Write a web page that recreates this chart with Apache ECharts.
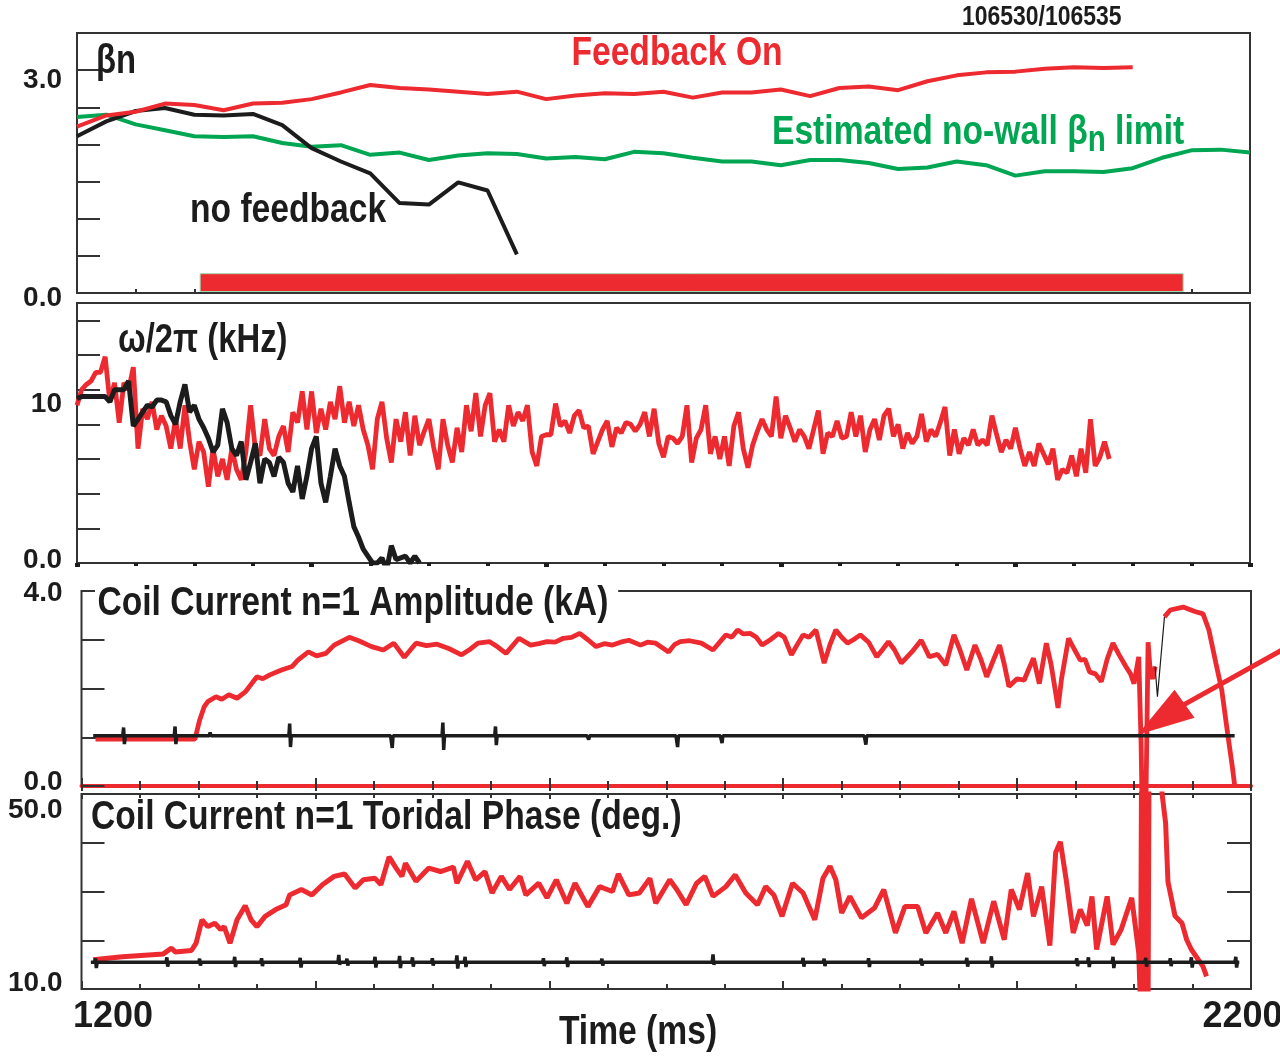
<!DOCTYPE html>
<html>
<head>
<meta charset="utf-8">
<title>Feedback stabilization, shots 106530/106535</title>
<script src="https://cdn.jsdelivr.net/npm/echarts@6.0.0/dist/echarts.min.js"></script>
<style>
  html, body { margin: 0; padding: 0; background: #fff; }
  #chart { width: 1280px; height: 1058px; }
</style>
</head>
<body>
<div id="chart"></div>
<script>
// ---------------------------------------------------------------------------
// Data
// ---------------------------------------------------------------------------

// Panel 1: normalized beta (one point every 25 ms)
const betaFbTimes = [1200,1225,1250,1275,1300,1325,1350,1375,1400,1425,1450,1475,1500,1525,1550,1575,1600,1625,1650,1675,1700,1725,1750,1775,1800,1825,1850,1875,1900,1925,1950,1975,2000,2025,2050,2075,2100];
const betaFbValues = [2.24,2.39,2.44,2.55,2.53,2.46,2.55,2.56,2.61,2.70,2.80,2.76,2.74,2.71,2.68,2.71,2.61,2.66,2.69,2.68,2.71,2.63,2.70,2.70,2.74,2.65,2.76,2.78,2.73,2.85,2.93,2.97,2.98,3.02,3.04,3.03,3.04];

const betaLimitTimes = [1200,1225,1250,1275,1300,1325,1350,1375,1400,1425,1450,1475,1500,1525,1550,1575,1600,1625,1650,1675,1700,1725,1750,1775,1800,1825,1850,1875,1900,1925,1950,1975,2000,2025,2050,2075,2100,2125,2150,2175,2200];
const betaLimitValues = [2.37,2.40,2.27,2.19,2.11,2.10,2.11,2.02,1.97,1.99,1.86,1.89,1.79,1.85,1.88,1.87,1.81,1.83,1.80,1.90,1.88,1.82,1.77,1.77,1.72,1.79,1.79,1.75,1.67,1.69,1.77,1.72,1.58,1.64,1.64,1.63,1.68,1.82,1.92,1.93,1.89];

const betaNoFbTimes = [1200,1225,1250,1275,1300,1325,1350,1375,1400,1425,1450,1475,1500,1525,1550,1575];
const betaNoFbValues = [2.11,2.31,2.45,2.49,2.40,2.39,2.41,2.26,1.95,1.77,1.61,1.21,1.19,1.49,1.38,0.52];

// Interval (ms) during which the feedback coils were active
const feedbackOnWindow = [1305, 2143];

// Panel 2: mode rotation frequency (kHz), sampled every 4 ms from 1200 ms
const rotStartMs = 1200;
const rotStepMs = 4;
const rotFbValues = [
  9.1,10.0,10.3,10.5,11.0,11.0,11.9,9.3,10.4,8.1,10.4,10.0,11.3,6.6,8.9,8.3,9.3,7.7,8.5,7.9,
  6.6,8.3,6.6,9.1,7.0,5.4,7.0,6.4,4.4,6.6,5.0,6.0,4.8,6.6,5.4,4.8,6.4,9.1,6.6,6.2,
  8.3,6.6,6.2,7.3,7.9,6.4,8.7,8.1,9.9,7.7,9.9,7.5,8.9,7.7,9.3,8.3,10.2,8.1,9.3,7.9,
  9.1,7.7,6.8,5.4,8.3,9.3,7.2,5.8,8.3,7.0,8.7,6.2,8.5,6.8,
  7.6,8.3,6.7,5.4,8.3,6.8,5.8,7.8,6.4,9.1,7.6,9.8,7.3,9.1,9.8,7.0,7.7,7.0,9.1,7.9,
  8.7,8.2,9.1,6.4,5.6,7.3,7.4,7.4,9.2,7.9,8.2,7.5,8.5,8.8,7.8,7.9,6.3,7.0,7.7,8.2,
  6.7,7.8,7.5,8.1,8.0,7.6,8.0,8.7,7.3,8.9,6.9,6.1,7.3,7.2,6.9,7.3,9.1,5.8,7.2,7.7,
  9.1,6.3,7.3,6.0,7.3,5.6,7.9,8.7,6.6,5.5,6.8,7.6,8.3,7.7,7.3,9.6,7.2,8.5,7.8,7.0,
  7.7,7.3,6.6,7.7,8.8,6.3,7.5,7.3,8.2,7.2,7.3,8.7,7.3,8.5,6.4,7.7,8.3,7.1,8.5,8.9,
  7.3,8.0,6.6,7.5,6.9,7.3,8.6,7.0,7.7,7.3,8.1,9.0,6.2,7.7,6.3,7.2,6.8,7.7,6.8,7.1,
  6.8,8.5,7.4,6.4,7.1,6.6,7.8,6.6,5.6,6.4,5.6,6.9,6.3,5.7,6.6,4.8,5.4,5.2,6.2,5.0,
  6.6,5.2,8.3,5.6,6.1,7.0,6.0
];
const rotNoFbValues = [
  9.5,9.6,9.6,9.6,9.6,9.6,9.6,9.3,10.0,10.0,10.0,10.5,7.9,8.3,8.7,9.1,9.0,9.4,9.4,9.3,
  8.5,8.0,9.3,10.3,8.7,9.1,8.3,7.8,7.2,6.4,6.8,8.9,8.1,6.6,6.2,7.0,4.8,5.8,6.9,4.6,
  6.0,5.8,5.0,6.1,5.8,4.6,4.1,5.6,3.7,5.0,6.6,7.3,4.6,3.5,5.0,6.6,5.6,5.0,3.5,2.1,
  1.5,0.8,0.4,0.0,0.0,0.3,-0.4,1.0,0.2,0.3,0.4,0.0,0.4,0.0
];

// Panel 3: n=1 coil current amplitude (kA)
const ampFbTimes = [1212,1297,1301,1305,1308,1315,1320,1326,1333,1340,1350,1355,1361,1371,1380,1385,1394,1401,1409,1416,1429,1437,1448,1458,1467,1476,1486,1495,1504,1514,1525,1532,1539,1549,1556,1563,1574,1584,1591,1598,1605,1612,1619,1626,1633,1640,1647,1654,1661,1668,1678,1684,1691,1702,1707,1712,1720,1730,1740,1751,1756,1761,1766,1772,1777,1782,1789,1796,1801,1807,1812,1817,1822,1828,1835,1840,1845,1850,1855,1860,1866,1873,1880,1885,1890,1895,1901,1910,1918,1925,1932,1939,1946,1951,1957,1964,1969,1974,1980,1985,1989,1993,2000,2006,2010,2014,2019,2025,2029,2033,2035,2038,2044,2049,2054,2058,2062,2067,2072,2077,2082,2087,2093,2097,2100,2104,2106,2107,2110,2112,2114,2116,2118,2122,2126,2131,2142,2152,2159,2164,2170,2175,2180,2184,2186];
const ampFbValues = [0.96,0.96,1.35,1.63,1.73,1.83,1.78,1.87,1.80,1.93,2.24,2.20,2.28,2.38,2.45,2.58,2.75,2.67,2.72,2.89,3.05,2.98,2.86,2.79,2.93,2.64,2.93,2.88,2.91,2.82,2.69,2.80,2.93,2.96,2.85,2.72,3.03,2.89,2.92,2.96,2.95,3.03,3.05,3.13,3.00,2.86,2.92,2.89,2.95,2.99,2.89,2.95,2.93,2.75,2.90,2.96,2.98,2.93,2.79,3.10,3.05,3.20,3.12,3.13,3.05,2.89,3.00,3.13,3.05,2.69,2.90,3.10,3.05,3.20,2.52,2.90,3.20,3.05,2.93,3.00,3.10,2.95,2.65,2.80,2.96,2.80,2.52,2.75,2.99,2.65,2.70,2.48,3.10,2.80,2.38,2.89,2.60,2.24,2.60,2.89,2.50,2.04,2.20,2.17,2.40,2.62,2.10,2.93,2.50,1.91,1.60,2.20,3.03,2.80,2.58,2.60,2.34,2.30,2.14,2.60,2.93,2.70,2.45,2.30,2.10,2.65,0.90,-0.60,-0.60,2.95,2.30,2.20,2.45,null,3.47,3.61,3.67,3.58,3.53,3.20,2.52,1.97,1.08,0.40,0.02];
// Short excursion recorded between the two feedback segments
const ampJumpTimes = [2118, 2120, 2126];
const ampJumpValues = [2.45, 1.83, 3.47];
// Reference shot: flat baseline with brief pickup spikes
const ampNoFbSpan = [1210, 2186];
const ampNoFbBase = 1.03;
const ampSpikeTimes = [1236,1280,1310,1378,1465,1509,1554,1633,1709,1747,1870];
const ampSpikeHigh  = [1.20,1.22,1.10,1.28,1.03,1.30,1.22,1.03,1.03,1.03,1.03];
const ampSpikeLow   = [0.86,0.86,1.03,0.80,0.78,0.74,0.84,0.95,0.80,0.88,0.85];

// Panel 4: n=1 coil current toroidal phase (deg.)
const phaseFbTimes = [1210,1235,1270,1277,1280,1294,1298,1303,1308,1314,1319,1322,1327,1333,1340,1345,1350,1357,1366,1375,1378,1388,1397,1406,1416,1425,1434,1441,1451,1456,1463,1469,1474,1477,1486,1497,1507,1518,1521,1530,1537,1545,1551,1559,1566,1575,1580,1591,1598,1606,1615,1622,1633,1643,1654,1659,1668,1677,1686,1691,1703,1709,1717,1726,1733,1740,1751,1759,1768,1778,1785,1792,1799,1808,1817,1827,1834,1840,1845,1850,1857,1867,1878,1886,1896,1904,1915,1922,1932,1939,1946,1953,1961,1971,1980,1989,1995,2002,2009,2014,2021,2028,2033,2037,2042,2048,2054,2060,2064,2068,2077,2082,2089,2098,2104,2105.6,2106.4,2107.2,2108,2108.8,2109.6,2110.4,2111.2,2112,2112.8,2121,2122,2124,2127,2129,2135,2141,2145,2149,2159,2162];
const phaseFbValues = [16.0,16.6,17.2,18.4,17.6,17.9,19.4,24.2,22.8,23.5,22.2,22.8,19.4,24.2,27.1,24.2,22.8,24.9,26.3,27.3,29.3,30.4,29.3,31.4,33.1,33.6,30.7,32.4,32.7,31.4,37.1,34.8,33.1,35.8,32.1,34.8,34.1,35.0,31.7,36.2,32.4,34.1,29.7,33.1,30.4,33.1,29.3,31.7,28.7,32.4,27.6,31.7,26.9,31.0,30.0,33.6,29.3,29.7,32.7,27.6,32.4,30.4,27.3,31.7,33.1,29.0,31.0,33.4,29.7,27.3,31.0,29.3,24.9,31.7,29.7,24.2,32.7,35.2,32.4,25.6,29.0,24.6,26.6,30.4,21.5,26.9,26.9,21.5,25.6,21.5,25.9,19.4,28.5,19.4,28.0,20.1,30.4,26.3,33.8,24.9,31.0,18.9,38.0,40.2,32.4,21.5,26.3,23.0,29.0,18.1,29.0,19.1,22.2,28.7,17.4,6,56,6,56,6,56,6,56,6,56,60,60,50,44.0,32.0,25.0,23.5,20.1,18.1,14.6,12.6,9.9];
const phaseNoFbSpan = [1208, 2190];
const phaseNoFbBase = 15.5;
const phaseSpikeTimes = [1212,1273,1301,1331,1354,1387,1420,1427,1451,1472,1483,1500,1521,1528,1595,1615,1645,1740,1817,1835,1873,1918,1957,1978,2051,2061,2082,2110,2131,2149,2187];
const phaseSpikeHigh  = [16.3,16.5,16.2,16.6,16.3,16.4,17.0,16.2,16.6,16.8,16.5,16.3,16.9,16.6,16.3,16.5,16.2,17.1,16.4,16.2,16.3,16.2,16.4,16.7,16.3,16.5,16.6,16.4,16.3,16.5,16.6];
const phaseSpikeLow   = [14.3,14.6,14.8,14.5,14.7,14.4,15.0,14.8,14.4,14.3,14.6,14.8,14.2,14.5,14.7,14.5,14.8,15.0,14.6,14.7,14.5,14.8,14.6,14.4,14.7,14.5,14.3,14.6,14.7,14.4,14.4];

// The arrow points at the amplitude collapse of the feedback shot
const arrowTarget = [2103, 1.05];

// ---------------------------------------------------------------------------
// Helpers
// ---------------------------------------------------------------------------
const pairs = (ts, vs) => ts.map((t, i) => [t, vs[i]]);
const sampled = (t0, dt, vs) => vs.map((v, i) => [t0 + i * dt, v]);
function baselineWithSpikes(span, base, times, hi, lo) {
  const out = [[span[0], base]];
  times.forEach((s, i) => {
    out.push([s - 0.7, base], [s, hi[i]], [s + 0.7, lo[i]], [s + 1.4, base]);
  });
  out.push([span[1], base]);
  return out;
}

// ---------------------------------------------------------------------------
// Styling
// ---------------------------------------------------------------------------
const FONT = "'Liberation Sans', Arial, Helvetica, sans-serif";
const NARROW = 0.82;            // horizontal squeeze for the condensed headline face
const RED = '#ec2a30';
const GREEN = '#00a651';
const INK = '#1c1c1c';
const FRAME = '#333333';

const tickFont = (extra) => Object.assign({ fontFamily: FONT, fontWeight: 'bold', fontSize: 28, color: INK }, extra);

function gridBox(left, top, width, height) {
  return { left, top, width, height, show: true, borderColor: FRAME, borderWidth: 2,
           backgroundColor: 'transparent', containLabel: false, outerBoundsMode: 'none' };
}

function timeAxis(gridIndex, opts) {
  return Object.assign({
    type: 'value', gridIndex, min: 1200, max: 2200, interval: 200,
    axisLine: { show: false },
    splitLine: { show: false },
    axisLabel: { show: false },
    axisTick: { show: true, inside: true, length: 8, lineStyle: { color: FRAME, width: 2 } },
    minorTick: { show: true, splitNumber: 4, length: 5, lineStyle: { color: FRAME, width: 2 } }
  }, opts);
}

function valueAxis(gridIndex, min, max, interval, formatter, rich, margin) {
  return {
    type: 'value', gridIndex, min, max, interval,
    axisLine: { show: false },
    splitLine: { show: false },
    axisTick: { show: true, inside: true, length: 23, lineStyle: { color: FRAME, width: 2 } },
    axisLabel: tickFont({ margin, formatter, rich })
  };
}

function lineSeries(name, data, xi, yi, color, width, extra) {
  return Object.assign({
    name, type: 'line', data, xAxisIndex: xi, yAxisIndex: yi,
    showSymbol: false, symbol: 'none', animation: false, silent: true,
    lineStyle: { color, width, join: 'bevel' }, connectNulls: false
  }, extra);
}

const near = (a, b) => Math.abs(a - b) < 1e-6;
const headline = (size) => 'bold ' + size + 'px ' + FONT;

// ---------------------------------------------------------------------------
// Option
// ---------------------------------------------------------------------------
const option = {
  backgroundColor: '#ffffff',
  animation: false,
  grid: [
    gridBox(77, 33, 1173, 260),
    gridBox(77, 303, 1173, 260),
    gridBox(81.5, 591, 1169.5, 195),
    gridBox(81.5, 794, 1169.5, 195)
  ],
  xAxis: [
    // 0: beta panel
    timeAxis(0, { interval: 50, minorTick: { show: false },
                  axisTick: { show: true, inside: true, length: 4, lineStyle: { color: FRAME, width: 2 } } }),
    // 1: rotation panel
    timeAxis(1, {
      axisTick: { show: true, inside: false, length: 4, lineStyle: { color: INK, width: 5 } },
      minorTick: { show: true, splitNumber: 4, length: 3, lineStyle: { color: INK, width: 4 } }
    }),
    // 2: amplitude panel, bottom
    timeAxis(2, { position: 'bottom', axisLine: { show: true, onZero: false, lineStyle: { color: RED, width: 4 } } }),
    // 3: amplitude panel, top
    timeAxis(2, { position: 'top',
                  axisTick: { show: true, inside: true, length: 5, lineStyle: { color: FRAME, width: 2 } },
                  minorTick: { show: true, splitNumber: 4, length: 4, lineStyle: { color: FRAME, width: 2 } } }),
    // 4: phase panel, bottom with the time labels
    timeAxis(3, {
      position: 'bottom',
      axisLabel: {
        show: true, margin: 10,
        formatter: (v) => near(v, 1200) ? '{a|1200}' : (near(v, 2200) ? '{b|2200}' : ''),
        rich: {
          a: { fontFamily: FONT, fontWeight: 'bold', fontSize: 36, color: INK, padding: [0, 0, 0, 63] },
          b: { fontFamily: FONT, fontWeight: 'bold', fontSize: 36, color: INK, padding: [0, 17, 0, 0] }
        }
      }
    }),
    // 5: phase panel, top
    timeAxis(3, { position: 'top',
                  axisTick: { show: true, inside: true, length: 5, lineStyle: { color: FRAME, width: 2 } },
                  minorTick: { show: true, splitNumber: 4, length: 4, lineStyle: { color: FRAME, width: 2 } } })
  ],
  yAxis: [
    valueAxis(0, 0, 3.5, 0.5,
      (v) => near(v, 0) ? '{lo|0.0}' : (near(v, 3) ? '{hi|3.0}' : ''),
      { lo: tickFont({ padding: [10, 0, 0, 0] }), hi: tickFont({ padding: [20, 0, 0, 0] }) }, 15),
    valueAxis(1, 0, 15, 2,
      (v) => near(v, 0) ? '{lo|0.0}' : (near(v, 10) ? '{hi|10}' : ''),
      { lo: tickFont({ padding: [0, 0, 6, 0] }), hi: tickFont({ padding: [30, 0, 0, 0] }) }, 15),
    valueAxis(2, 0, 4, 1,
      (v) => near(v, 0) ? '{lo|0.0}' : (near(v, 4) ? '{hi|4.0}' : ''),
      { lo: tickFont({ padding: [0, 0, 8, 0] }), hi: tickFont({ padding: [4, 0, 0, 0] }) }, 19),
    valueAxis(3, 10, 50, 10,
      (v) => near(v, 10) ? '{lo|10.0}' : (near(v, 50) ? '{hi|50.0}' : ''),
      { lo: tickFont({ padding: [0, 0, 12, 0] }), hi: tickFont({ padding: [32, 0, 0, 0] }) }, 19),
    // right-hand ticks of the phase panel
    {
      type: 'value', gridIndex: 3, min: 10, max: 50, interval: 10, position: 'right',
      axisLine: { show: false }, splitLine: { show: false }, axisLabel: { show: false },
      axisTick: { show: true, inside: true, length: 24, lineStyle: { color: FRAME, width: 2 } }
    }
  ],
  series: [
    // Panel 1
    lineSeries('no-wall limit', pairs(betaLimitTimes, betaLimitValues), 0, 0, GREEN, 4),
    lineSeries('no feedback', pairs(betaNoFbTimes, betaNoFbValues), 0, 0, INK, 4),
    lineSeries('feedback on', pairs(betaFbTimes, betaFbValues), 0, 0, RED, 4, {
      markArea: {
        silent: true,
        itemStyle: { color: RED, borderColor: '#9fd8aa', borderWidth: 1 },
        data: [[{ xAxis: feedbackOnWindow[0], yAxis: 0.02 }, { xAxis: feedbackOnWindow[1], yAxis: 0.26 }]]
      }
    }),
    // Panel 2
    lineSeries('rotation, feedback', sampled(rotStartMs, rotStepMs, rotFbValues), 1, 1, RED, 4.8),
    lineSeries('rotation, no feedback', sampled(rotStartMs, rotStepMs, rotNoFbValues), 1, 1, INK, 5),
    // Panel 3
    lineSeries('amplitude, feedback', pairs(ampFbTimes, ampFbValues), 2, 2, RED, 4.8, { clip: false }),
    lineSeries('amplitude, excursion', pairs(ampJumpTimes, ampJumpValues), 2, 2, INK, 1.2),
    lineSeries('amplitude, no feedback', baselineWithSpikes(ampNoFbSpan, ampNoFbBase, ampSpikeTimes, ampSpikeHigh, ampSpikeLow), 2, 2, INK, 3.5),
    // Panel 4
    lineSeries('phase, feedback', pairs(phaseFbTimes, phaseFbValues), 4, 3, RED, 5),
    lineSeries('phase, no feedback', baselineWithSpikes(phaseNoFbSpan, phaseNoFbBase, phaseSpikeTimes, phaseSpikeHigh, phaseSpikeLow), 4, 3, INK, 3.5)
  ]
};

const chart = echarts.init(document.getElementById('chart'), null, { renderer: 'canvas' });
chart.setOption(option);

// Annotations: panel captions, shot numbers and the arrow (anchored to its data point)
const tip = chart.convertToPixel({ xAxisIndex: 2, yAxisIndex: 2 }, arrowTarget);

function caption(id, x, y, text, size, color, extra) {
  return {
    id, type: 'text', x, y, scaleX: NARROW, z: 100,
    style: Object.assign({ text, font: headline(size), fill: color, verticalAlign: 'middle' }, extra || {})
  };
}

chart.setOption({
  graphic: [
    caption('shots', 962, 17, '106530/106535', 28, INK),
    caption('betaTitle', 96, 62, 'βn', 40, INK),
    caption('fbOn', 677, 54, 'Feedback On', 41, RED, { align: 'center' }),
    {
      id: 'limitTitle', type: 'text', x: 772, y: 112, scaleX: NARROW, z: 100,
      style: {
        text: '{t|Estimated no-wall β}{s|n}{t| limit}',
        verticalAlign: 'top',
        rich: {
          t: { font: headline(41), fill: GREEN, verticalAlign: 'top' },
          s: { font: headline(36), fill: GREEN, verticalAlign: 'top', padding: [11, 0, 0, 0] }
        }
      }
    },
    caption('noFb', 190, 211, 'no feedback', 41, INK),
    caption('rotTitle', 118, 341, 'ω/2π (kHz)', 40, INK),
    caption('ampTitle', 95, 604, 'Coil Current n=1 Amplitude (kA)', 41, INK,
            { backgroundColor: '#ffffff', padding: [2, 12, 2, 3] }),
    caption('phaseTitle', 91, 818, 'Coil Current n=1 Toridal Phase (deg.)', 41, INK),
    caption('timeTitle', 638, 1033, 'Time (ms)', 41, INK, { align: 'center' }),
    {
      id: 'arrow', type: 'group', x: tip[0], y: tip[1], z: 120,
      children: [
        { type: 'line', shape: { x1: 46, y1: -30, x2: 150, y2: -88 }, style: { stroke: RED, lineWidth: 5 } },
        { type: 'polygon', shape: { points: [[0, 0], [37, -45], [57, -17]] }, style: { fill: RED } }
      ]
    }
  ]
});
</script>
</body>
</html>
